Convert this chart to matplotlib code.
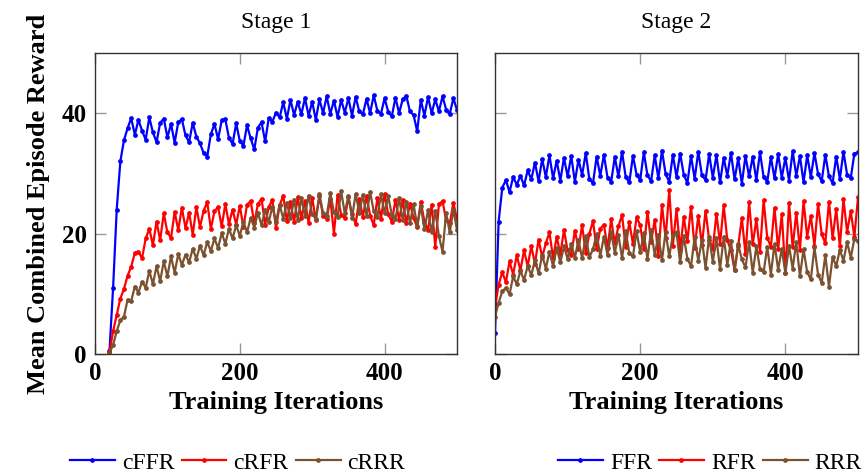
import matplotlib
matplotlib.use('Agg')
import matplotlib.pyplot as plt
import numpy as np

plt.rcParams['font.family'] = ['Liberation Serif', 'DejaVu Serif']

# Stage 1 (curriculum) runs start at iteration 20, sampled every 5 iterations
stage1_iters = np.arange(20, 501, 5)
cffr = [0.5, 11.0, 24.0, 32.0, 35.5, 37.5, 39.2, 36.4, 38.9, 37.1,
        35.6, 39.3, 36.8, 35.2, 38.4, 39.1, 36.0, 38.2, 35.1, 38.5,
        39.0, 36.3, 35.2, 38.4, 36.1, 35.0, 33.4, 32.8, 36.5, 38.2,
        35.7, 38.8, 39.0, 35.9, 34.9, 38.3, 35.4, 34.6, 38.0, 35.8,
        34.0, 37.6, 38.5, 35.3, 39.2, 38.6, 40.1, 39.3, 41.8, 39.1,
        42.2, 39.7, 41.9, 39.8, 42.5, 39.6, 41.9, 38.9, 42.3, 40.0,
        42.8, 39.9, 42.1, 39.4, 42.2, 40.1, 42.5, 39.6, 42.7, 40.3,
        39.8, 42.4, 40.0, 43.0, 40.4, 39.9, 42.5, 40.2, 39.5, 42.6,
        40.0, 42.3, 42.9, 40.3, 39.7, 37.0, 42.2, 39.6, 42.7, 40.0,
        42.3, 40.3, 42.8, 40.6, 39.9, 42.5, 40.5]
crfr = [0.3, 3.8, 6.5, 9.2, 10.8, 13.0, 14.5, 16.8, 17.0, 15.9,
        19.2, 20.8, 18.1, 22.0, 18.9, 23.4, 20.2, 19.3, 23.6, 20.6,
        24.3, 20.9, 23.5, 19.8, 24.4, 21.1, 23.8, 25.2, 20.8, 23.7,
        24.4, 21.2, 24.9, 21.6, 24.0, 21.5, 24.6, 21.1, 24.8, 25.4,
        21.7, 24.9, 25.8, 21.5, 24.4, 25.6, 20.9, 24.7, 26.3, 22.1,
        25.2, 22.0, 26.0, 22.6, 25.4, 21.8, 25.9, 22.3, 26.2, 23.0,
        22.5, 25.8, 20.0, 26.4, 23.1, 22.6, 26.0, 23.3, 21.6, 25.7,
        22.8, 26.2, 23.0, 21.4, 25.9, 22.5, 26.6, 23.2, 22.0, 25.6,
        22.3, 25.5, 21.8, 25.0, 22.6, 21.1, 25.3, 22.0, 20.6, 24.8,
        17.8, 24.9, 25.4, 22.2, 21.7, 25.1, 22.4]
crrr = [0.2, 1.5, 3.8, 5.6, 6.2, 9.0, 8.8, 11.2, 10.2, 12.0,
        11.0, 13.8, 11.6, 14.6, 12.1, 15.4, 12.9, 16.2, 13.5, 16.6,
        14.8, 16.5, 15.2, 17.5, 15.8, 18.0, 16.4, 18.6, 17.1, 19.2,
        17.6, 20.1, 18.3, 20.8, 19.2, 21.4, 19.6, 22.0, 20.2, 22.6,
        21.0, 23.5, 21.4, 24.0, 21.9, 24.5, 22.0, 24.8, 22.5, 25.1,
        22.6, 25.6, 22.3, 25.9, 23.0, 26.3, 23.2, 22.5, 26.5, 23.4,
        22.9, 26.7, 23.6, 22.8, 27.0, 23.4, 26.3, 22.6, 26.6, 23.5,
        26.4, 23.0, 26.9, 23.7, 22.8, 26.5, 23.4, 26.2, 23.1, 22.4,
        25.9, 22.3, 25.3, 21.7, 24.9, 21.2, 24.6, 20.7, 23.9, 20.3,
        23.7, 19.6, 17.0, 23.4, 20.2, 24.0, 20.6]

# Stage 2 runs start at iteration 0, sampled every 5 iterations
stage2_iters = np.arange(0, 501, 5)
ffr = [3.5, 22.0, 27.6, 28.9, 26.9, 29.4, 28.1, 29.6, 28.0, 30.5,
       29.0, 31.8, 28.7, 32.4, 29.4, 33.0, 29.2, 32.1, 28.8, 32.6,
       29.5, 32.9, 28.6, 32.3, 29.7, 33.4, 29.0, 28.4, 32.8, 29.6,
       33.1, 29.3, 28.6, 32.7, 29.5, 33.6, 29.4, 28.5, 32.9, 29.8,
       28.9, 33.5, 29.7, 28.7, 33.0, 29.2, 33.8, 29.9, 28.6, 33.1,
       29.4, 33.3, 29.8, 28.4, 32.9, 29.1, 33.6, 29.7, 28.9, 33.2,
       29.3, 33.0, 28.5, 32.6, 29.6, 33.4, 29.0, 32.5, 28.3, 32.9,
       29.5, 32.8, 28.9, 33.5, 29.4, 28.6, 32.7, 29.2, 33.2, 29.3,
       32.6, 28.8, 33.7, 29.6, 32.9, 28.5, 33.0, 29.4, 33.4, 29.9,
       28.7, 33.1, 29.5, 28.4, 32.8, 29.1, 33.6, 29.8, 29.2, 33.3,
       33.5]
rfr = [7.8, 11.5, 13.6, 11.9, 15.4, 13.2, 16.4, 13.9, 17.2, 14.6,
       17.9, 15.0, 19.0, 16.1, 18.4, 20.2, 15.9, 19.5, 16.6, 20.6,
       17.2, 16.4, 20.5, 17.5, 21.4, 16.8, 20.0, 22.1, 17.4, 20.8,
       21.5, 17.6, 22.4, 18.4, 21.2, 23.1, 17.8, 21.9, 18.3, 22.7,
       21.4, 17.4, 23.6, 18.6, 22.3, 16.2, 24.8, 19.2, 27.2, 18.0,
       24.1, 17.3, 22.8, 18.7, 24.5, 17.6, 23.0, 18.1, 23.8, 19.0,
       17.5, 23.3, 18.3, 24.7, 18.9, 17.2, 14.0, 18.0, 22.6, 16.6,
       25.2, 18.2, 22.4, 17.0, 25.6, 19.3, 17.8, 24.3, 17.4, 23.2,
       13.5, 25.1, 17.7, 23.5, 17.3, 25.4, 19.5, 22.9, 18.0, 24.9,
       19.9, 18.4, 25.3, 19.2, 24.1, 17.9, 25.7, 20.3, 23.7, 19.5,
       26.0]
rrr = [6.2, 8.5, 10.4, 11.0, 9.9, 12.9, 11.6, 13.8, 12.3, 14.6,
       13.1, 15.6, 13.4, 16.4, 14.2, 17.0, 14.6, 17.6, 15.2, 17.9,
       15.8, 18.3, 16.0, 18.9, 15.9, 19.6, 16.1, 17.4, 19.9, 16.3,
       19.5, 16.4, 20.2, 16.8, 19.8, 15.9, 20.5, 16.7, 16.2, 20.4,
       16.9, 20.1, 15.8, 20.6, 16.4, 19.7, 15.6, 20.3, 16.2, 19.8,
       20.2, 15.2, 19.6, 15.8, 14.6, 19.4, 15.5, 19.0, 14.3, 19.5,
       15.3, 19.2, 14.1, 19.4, 14.8, 18.8, 13.9, 18.2, 15.7, 14.4,
       18.6, 13.5, 17.9, 14.1, 13.6, 17.8, 13.2, 18.3, 14.0, 17.5,
       13.4, 18.0, 14.2, 18.6, 12.9, 17.4, 13.6, 12.4, 17.7, 13.2,
       11.8, 16.4, 11.2, 16.1, 14.6, 17.3, 15.5, 18.6, 16.0, 19.1,
       18.8]

colors = ['#0000ff', '#ff0000', '#7a5230']
stage1_labels = ['cFFR', 'cRFR', 'cRRR']
stage2_labels = ['FFR', 'RFR', 'RRR']


def style_axes(ax, show_ylabels):
    ax.set_xlim(0, 500)
    ax.set_ylim(0, 50)
    ax.set_xticks([0, 200, 400])
    ax.set_yticks([0, 20, 40])
    ax.tick_params(direction='in', length=8, width=1, color='#999999',
                   top=True, right=True, labelsize=18, pad=6)
    for lbl in ax.get_xticklabels() + ax.get_yticklabels():
        lbl.set_fontweight('bold')
    if not show_ylabels:
        ax.set_yticklabels([])
    for sp in ax.spines.values():
        sp.set_color('#333333')
        sp.set_linewidth(1)
    ax.set_xlabel('Training Iterations', fontsize=19, fontweight='bold',
                  labelpad=4)


fig = plt.figure(figsize=(8.65, 4.73), dpi=100)
ax1 = fig.add_axes([95 / 865, 1 - 354 / 473, 362 / 865, 301 / 473])
ax2 = fig.add_axes([495 / 865, 1 - 354 / 473, 363 / 865, 301 / 473])

# Plot each configuration as a line with small dot markers
for data, lab, c in zip([cffr, crfr, crrr], stage1_labels, colors):
    ax1.plot(stage1_iters, data, color=c, lw=1.6, marker='o', markersize=2.4,
             label=lab)
for data, lab, c in zip([ffr, rfr, rrr], stage2_labels, colors):
    ax2.plot(stage2_iters, data, color=c, lw=1.6, marker='o', markersize=2.4,
             label=lab)

style_axes(ax1, True)
style_axes(ax2, False)
ax1.set_ylabel('Mean Combined Episode Reward', fontsize=19, fontweight='bold',
               labelpad=8)
ax1.set_title('Stage 1', fontsize=17, pad=18)
ax2.set_title('Stage 2', fontsize=17, pad=18)

# Legends sit below each panel
leg_kw = dict(ncol=3, frameon=False, fontsize=17, handlelength=1.9,
              handletextpad=0.3, columnspacing=0.3, borderaxespad=0,
              borderpad=0, markerscale=1.0)
h1, l1 = ax1.get_legend_handles_labels()
fig.legend(h1, l1, loc='center left', bbox_to_anchor=(70 / 865, 1 - 463 / 473),
           **leg_kw)
h2, l2 = ax2.get_legend_handles_labels()
fig.legend(h2, l2, loc='center left', bbox_to_anchor=(558 / 865, 1 - 463 / 473),
           **leg_kw)

fig.savefig('out.png', dpi=100)
